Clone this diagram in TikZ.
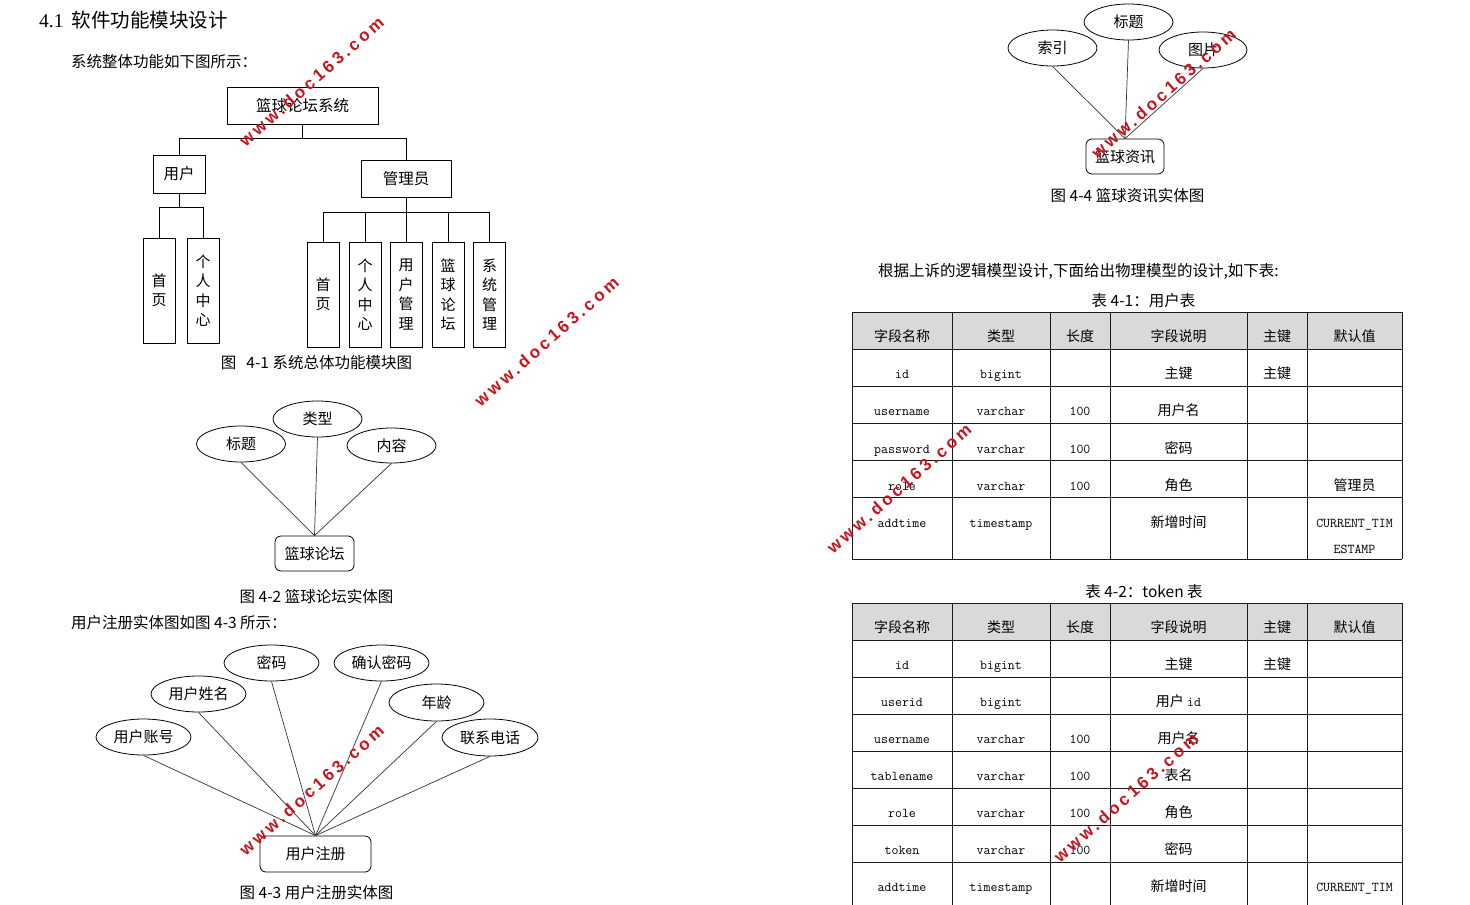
\documentclass[tikz,border=0pt]{standalone}
\usepackage{fontspec}
\setmainfont{Noto Sans CJK SC}
\newfontfamily\serifl{Liberation Serif}
\newfontfamily\wmfont[LetterSpace=20]{Liberation Sans}
\usetikzlibrary{shapes.geometric}
\definecolor{wmred}{RGB}{200,20,30}
\definecolor{hdr}{RGB}{217,217,217}
\newcommand\lat[1]{{\ttfamily\fontsize{13.5}{13.5}\selectfont #1}}
\newcommand\tabrow[8]{%
  \node[cell] (#1-1) at (902,#2) {#3};
  \node[cell] (#1-2) at (1001,#2) {#4};
  \node[cell] (#1-3) at (1080,#2) {#5};
  \node[cell] (#1-4) at (1178.5,#2) {#6};
  \node[cell] (#1-5) at (1277,#2) {#7};
  \node[cell] (#1-6) at (1354.5,#2) {#8};
}
\begin{document}
\begin{tikzpicture}[x=1pt,y=-1pt,
  txt/.style={inner sep=0pt, font=\fontsize{15.5}{15.5}\selectfont},
  tbox/.style={draw, line width=1pt, inner sep=0pt, font=\fontsize{15.5}{15.5}\selectfont},
  leaf/.style={tbox, minimum width=32pt, minimum height=105pt, align=center, font=\fontsize{15}{19.5}\selectfont},
  tree/.style={line width=1pt},
  attr/.style={ellipse, draw, line width=0.8pt, inner sep=0pt, font=\fontsize{15}{15}\selectfont},
  ent/.style={draw, line width=0.8pt, rounded corners=6pt, inner sep=0pt, font=\fontsize{15}{15}\selectfont},
  erline/.style={line width=0.7pt, black!80},
  cell/.style={anchor=base, inner sep=0pt, font=\fontsize{14}{14}\selectfont},
  grid/.style={line width=1pt, black!90},
  wm/.style={inner sep=0pt, text=wmred, font=\wmfont\bfseries\fontsize{17}{17}\selectfont}]
\useasboundingbox (0,0) rectangle (1470,905);
\fill[white] (0,0) rectangle (1470,905);

% ---------- heading and texts ----------
\node[anchor=west, inner sep=0pt, font=\fontsize{19.5}{19.5}\selectfont] (head) at (39,20) {{\serifl 4.1}\hspace{8pt}软件功能模块设计};
\node[txt, anchor=west] (intro1) at (71,62) {系统整体功能如下图所示：};

% ---------- Fig 4-1 tree ----------
\node[tbox, minimum width=151pt, minimum height=37pt] (root) at (302.5,105.5) {篮球论坛系统};
\node[tbox, minimum width=52pt, minimum height=38pt] (user) at (179,174) {用户};
\node[tbox, minimum width=90pt, minimum height=37pt] (admin) at (406,178.5) {管理员};
\node[leaf] (u1) at (159,290.5) {首\\页};
\node[leaf] (u2) at (203,290.5) {个\\人\\中\\心};
\node[leaf] (a1) at (323,294.5) {首\\页};
\node[leaf] (a2) at (365,294.5) {个\\人\\中\\心};
\node[leaf] (a3) at (406,294.5) {用\\户\\管\\理};
\node[leaf] (a4) at (448,294.5) {篮\\球\\论\\坛};
\node[leaf] (a5) at (489.5,294.5) {系\\统\\管\\理};
\draw[tree] (root.south) -- ++(0,14) -| (user.north);
\draw[tree] (root.south) ++(0,14) -| (admin.north);
\draw[tree] (user.south) -- ++(0,14) -| (u1.north);
\draw[tree] (user.south) ++(0,14) -| (u2.north);
\draw[tree] (admin.south) -- ++(0,15) -| (a1.north);
\foreach \n in {a2,a3,a4,a5} \draw[tree] (admin.south) ++(0,15) -| (\n.north);
\node[txt] (cap1) at (316.5,363) {图\hspace{10pt}4-1 系统总体功能模块图};

% ---------- Fig 4-2 ----------
\node[attr, minimum width=89pt, minimum height=36pt] (f-title) at (241,444) {标题};
\node[attr, minimum width=89pt, minimum height=36pt] (f-type) at (317.5,419) {类型};
\node[attr, minimum width=89pt, minimum height=35pt] (f-content) at (391.5,445.5) {内容};
\node[ent, minimum width=79pt, minimum height=35pt] (forum) at (314.5,553.5) {篮球论坛};
\foreach \n in {f-title,f-type,f-content} \draw[erline] (\n.south) -- (forum.north);
\node[txt] (cap2) at (316.5,597) {图 4-2 篮球论坛实体图};
\node[txt, anchor=west] (intro3) at (71,623) {用户注册实体图如图 4-3 所示：};

% ---------- Fig 4-3 ----------
\node[attr, minimum width=95pt, minimum height=36pt] (r-pwd) at (271.5,663) {密码};
\node[attr, minimum width=95pt, minimum height=36pt] (r-pwd2) at (381.5,663) {确认密码};
\node[attr, minimum width=95pt, minimum height=36pt] (r-name) at (198.5,694) {用户姓名};
\node[attr, minimum width=95pt, minimum height=37pt] (r-age) at (436.5,702.5) {年龄};
\node[attr, minimum width=95pt, minimum height=36pt] (r-acc) at (143.5,737) {用户账号};
\node[attr, minimum width=96pt, minimum height=37pt] (r-tel) at (490,737.5) {联系电话};
\node[ent, minimum width=111pt, minimum height=36pt] (reg) at (315.5,854) {用户注册};
\foreach \n in {r-pwd,r-pwd2,r-name,r-age,r-acc,r-tel} \draw[erline] (\n.south) -- (reg.north);
\node[txt] (cap3) at (316.5,893) {图 4-3 用户注册实体图};

% ---------- Fig 4-4 ----------
\node[attr, minimum width=89pt, minimum height=36pt] (n-title) at (1128.5,22) {标题};
\node[attr, minimum width=89pt, minimum height=36pt] (n-index) at (1052.5,48) {索引};
\node[attr, minimum width=88pt, minimum height=36pt] (n-pic) at (1203,50) {图片};
\node[ent, minimum width=78pt, minimum height=35pt] (news) at (1125,156.5) {篮球资讯};
\foreach \n in {n-title,n-index,n-pic} \draw[erline] (\n.south) -- (news.north);
\node[txt] (cap4) at (1127.5,196) {图 4-4 篮球资讯实体图};

% ---------- Tables ----------
\node[txt, anchor=west] (intro5) at (878,271) {根据上诉的逻辑模型设计,下面给出物理模型的设计,如下表:};
\node[txt] (capt1) at (1143.5,301) {表 4-1：用户表};
\fill[hdr] (852,312) rectangle (1402,349);
\foreach \y in {312,349,386,423,460,497,559} \draw[grid] (852,\y) -- (1402,\y);
\foreach \x in {852,952,1050,1110,1247,1307,1402} \draw[grid] (\x,312) -- (\x,559);
\tabrow{ta0}{341}{字段名称}{类型}{长度}{字段说明}{主键}{默认值}
\tabrow{ta1}{378}{\lat{id}}{\lat{bigint}}{}{主键}{主键}{}
\tabrow{ta2}{415}{\lat{username}}{\lat{varchar}}{\lat{100}}{用户名}{}{}
\tabrow{ta3}{453}{\lat{password}}{\lat{varchar}}{\lat{100}}{密码}{}{}
\tabrow{ta4}{490}{\lat{role}}{\lat{varchar}}{\lat{100}}{角色}{}{管理员}
\tabrow{ta5}{527}{\lat{addtime}}{\lat{timestamp}}{}{新增时间}{}{\lat{CURRENT\_TIM}}
\node[cell] (ta5-6b) at (1354.5,553) {\lat{ESTAMP}};

\node[txt] (capt2) at (1144,592) {表 4-2：token 表};
\fill[hdr] (852,603) rectangle (1402,640);
\foreach \y in {603,640,677,714,751,788,825,862} \draw[grid] (852,\y) -- (1402,\y);
\foreach \x in {852,952,1050,1110,1247,1307,1402} \draw[grid] (\x,603) -- (\x,906);
\tabrow{tb0}{632}{字段名称}{类型}{长度}{字段说明}{主键}{默认值}
\tabrow{tb1}{669}{\lat{id}}{\lat{bigint}}{}{主键}{主键}{}
\tabrow{tb2}{706}{\lat{userid}}{\lat{bigint}}{}{用户 \lat{id}}{}{}
\tabrow{tb3}{743}{\lat{username}}{\lat{varchar}}{\lat{100}}{用户名}{}{}
\tabrow{tb4}{780}{\lat{tablename}}{\lat{varchar}}{\lat{100}}{表名}{}{}
\tabrow{tb5}{817}{\lat{role}}{\lat{varchar}}{\lat{100}}{角色}{}{}
\tabrow{tb6}{854}{\lat{token}}{\lat{varchar}}{\lat{100}}{密码}{}{}
\tabrow{tb7}{891}{\lat{addtime}}{\lat{timestamp}}{}{新增时间}{}{\lat{CURRENT\_TIM}}

% ---------- watermarks ----------
\node[wm, rotate=41.5] (wm1) at (311.5,81.5) {www.doc163.com};
\node[wm, rotate=41.5] (wm2) at (546.5,341.5) {www.doc163.com};
\node[wm, rotate=41.5] (wm3) at (899,488.5) {www.doc163.com};
\node[wm, rotate=41.5] (wm4) at (311.5,790) {www.doc163.com};
\node[wm, rotate=41.5] (wm5) at (1163.5,93.5) {www.doc163.com};
\node[wm, rotate=41.5] (wm6) at (1126,797.5) {www.doc163.com};
\end{tikzpicture}
\end{document}
